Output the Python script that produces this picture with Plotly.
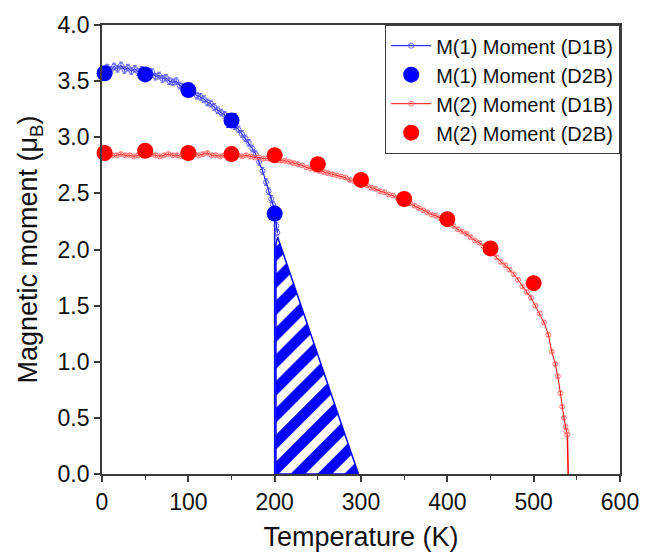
import plotly.graph_objects as go

# ---------------- data ----------------
# M(1) moment, D1B (fine temperature scan)
m1_d1b_T = [2, 6, 10, 14, 18, 22, 26, 30, 34, 38, 42, 46, 50, 54, 58, 62, 66, 70, 74, 78,
            82, 86, 90, 94, 98, 102, 106, 110, 114, 118, 122, 126, 130, 134, 138, 142, 146,
            150, 154, 158, 162, 166, 170, 174, 178, 182, 186, 190, 193, 196, 198, 200, 202, 203]
m1_d1b_M = [3.60, 3.62, 3.60, 3.63, 3.61, 3.64, 3.60, 3.62, 3.59, 3.61, 3.58, 3.60, 3.57, 3.56,
            3.58, 3.54, 3.55, 3.52, 3.53, 3.50, 3.49, 3.50, 3.46, 3.45, 3.44, 3.41, 3.40, 3.37,
            3.36, 3.34, 3.31, 3.30, 3.27, 3.24, 3.22, 3.20, 3.16, 3.13, 3.10, 3.07, 3.03, 2.99,
            2.95, 2.90, 2.85, 2.78, 2.70, 2.60, 2.52, 2.45, 2.40, 2.36, 2.21, 2.15]
m1_d1b_err = 0.03

# M(1) moment, D2B
m1_d2b_T = [3, 50, 100, 150, 200]
m1_d2b_M = [3.57, 3.56, 3.42, 3.15, 2.32]
m1_d2b_err = [0.03, 0.04, 0.03, 0.06, 0.04]

# M(2) moment, D1B
m2_d1b_T = [2, 7, 12, 17, 22, 27, 32, 37, 42, 47, 52, 57, 62, 67, 72, 77, 82, 87, 92, 97,
            102, 107, 112, 117, 122, 127, 132, 137, 142, 147, 152, 157, 162, 167, 172, 177,
            182, 187, 192, 197, 202, 207, 212, 217, 222, 227, 232, 237, 242, 247, 252, 257,
            262, 267, 272, 277, 282, 287, 292, 297, 302, 307, 312, 317, 322, 327, 332, 337,
            342, 347, 352, 357, 362, 367, 372, 377, 382, 387, 392, 397, 402, 407, 412, 417,
            422, 427, 432, 437, 442, 447, 452, 457, 462, 467, 472, 477, 482, 487, 492, 497,
            502, 507, 512, 517, 521, 525, 528, 531, 533, 535, 537, 538, 539]
m2_d1b_M = [2.84, 2.85, 2.84, 2.84, 2.85, 2.84, 2.84, 2.83, 2.84, 2.85, 2.84, 2.85, 2.84, 2.83,
            2.84, 2.85, 2.84, 2.84, 2.83, 2.84, 2.84, 2.85, 2.84, 2.85, 2.86, 2.84, 2.84, 2.83,
            2.84, 2.84, 2.83, 2.84, 2.83, 2.84, 2.83, 2.82, 2.82, 2.81, 2.81, 2.80, 2.80, 2.79,
            2.79, 2.78, 2.77, 2.76, 2.75, 2.73, 2.72, 2.71, 2.70, 2.69, 2.68, 2.67, 2.66, 2.65,
            2.64, 2.62, 2.61, 2.60, 2.59, 2.57, 2.55, 2.54, 2.52, 2.51, 2.49, 2.48, 2.46, 2.44,
            2.43, 2.41, 2.39, 2.37, 2.35, 2.33, 2.31, 2.30, 2.28, 2.26, 2.24, 2.21, 2.18, 2.16,
            2.14, 2.11, 2.08, 2.06, 2.03, 2.00, 1.97, 1.93, 1.89, 1.86, 1.82, 1.78, 1.73, 1.67,
            1.62, 1.57, 1.50, 1.43, 1.35, 1.24, 1.09, 0.98, 0.87, 0.72, 0.60, 0.50, 0.42, 0.38,
            0.35]
m2_d1b_err = 0.015

# M(2) moment, D2B
m2_d2b_T = [3, 50, 100, 150, 200, 250, 300, 350, 400, 450, 500]
m2_d2b_M = [2.86, 2.88, 2.86, 2.85, 2.84, 2.76, 2.62, 2.45, 2.27, 2.01, 1.70]

# transition lines to zero
m1_drop_T = [200, 200]
m1_drop_M = [2.30, 0.0]
m2_drop_T = [539, 540]
m2_drop_M = [0.35, 0.0]

# hatched region
hatch_T = [201.5, 201.5, 203.5, 297, 201.5]
hatch_M = [0.0, 2.05, 2.11, 0.0, 0.0]

x_ticks = [0, 100, 200, 300, 400, 500, 600]
y_ticks = [0.0, 0.5, 1.0, 1.5, 2.0, 2.5, 3.0, 3.5, 4.0]

BLUE = "#0000ff"
RED = "#ff0000"
FONT = "Liberation Sans, Arial, sans-serif"
INK = "#111111"
FRAME = "#3a3a3a"

fig = go.Figure()

# hatched triangle
fig.add_trace(go.Scatter(
    x=hatch_T, y=hatch_M, mode="lines", fill="toself",
    line=dict(color=BLUE, width=1.5),
    fillcolor="white",
    fillpattern=dict(shape="/", fgcolor=BLUE, bgcolor="white", size=19, solidity=0.55, fgopacity=1),
    showlegend=False, hoverinfo="skip"))

fig.add_trace(go.Scatter(x=m1_drop_T, y=m1_drop_M, mode="lines",
                         line=dict(color=BLUE, width=1.5), showlegend=False))
fig.add_trace(go.Scatter(x=m2_drop_T, y=m2_drop_M, mode="lines",
                         line=dict(color=RED, width=1.5), showlegend=False))

fig.add_trace(go.Scatter(
    x=m1_d1b_T, y=m1_d1b_M, mode="lines+markers", name="M(1) Moment (D1B)",
    line=dict(color=BLUE, width=1),
    marker=dict(symbol="circle-open", size=5, color="rgba(80,80,255,0.9)", line=dict(width=1)),
    error_y=dict(type="constant", value=m1_d1b_err, color="rgba(50,50,255,0.85)", thickness=0.8, width=2)))

fig.add_trace(go.Scatter(
    x=m1_d2b_T, y=m1_d2b_M, mode="markers", name="M(1) Moment (D2B)",
    marker=dict(symbol="circle", size=16, color=BLUE),
    error_y=dict(type="data", array=m1_d2b_err, color=BLUE, thickness=1.5, width=5),
    cliponaxis=False))

fig.add_trace(go.Scatter(
    x=m2_d1b_T, y=m2_d1b_M, mode="lines+markers", name="M(2) Moment (D1B)",
    line=dict(color=RED, width=1),
    marker=dict(symbol="circle-open", size=5, color="rgba(255,110,110,0.9)", line=dict(width=1)),
    error_y=dict(type="constant", value=m2_d1b_err, color="rgba(255,80,80,0.8)", thickness=0.8, width=2)))

fig.add_trace(go.Scatter(
    x=m2_d2b_T, y=m2_d2b_M, mode="markers", name="M(2) Moment (D2B)",
    marker=dict(symbol="circle", size=16, color=RED),
    cliponaxis=False))

axis_common = dict(
    showline=True, linecolor=FRAME, linewidth=1.8, mirror=True,
    ticks="outside", ticklen=6, tickwidth=1.5, tickcolor=FRAME,
    showgrid=False, zeroline=False,
    tickfont=dict(family=FONT, size=23, color=INK),
)

fig.update_xaxes(
    range=[0, 600], tickvals=x_ticks, ticktext=[str(v) for v in x_ticks],
    minor=dict(ticks="outside", ticklen=4, tickwidth=1.2, tickcolor=FRAME, dtick=50, tick0=0),
    title=dict(text="Temperature (K)", font=dict(family=FONT, size=27, color=INK), standoff=14),
    **axis_common)
fig.update_yaxes(
    range=[0, 4.0], tickvals=y_ticks, ticktext=[f"{v:.1f}" for v in y_ticks],
    title=dict(text="Magnetic moment (μ<sub>B</sub>)", font=dict(family=FONT, size=27, color=INK), standoff=12),
    **axis_common)

fig.update_layout(
    width=651, height=559,
    margin=dict(l=102, r=23, t=21, b=75),
    plot_bgcolor="white", paper_bgcolor="white",
    font=dict(family=FONT),
    legend=dict(x=1, y=1, xanchor="right", yanchor="top",
                bgcolor="white", bordercolor=FRAME, borderwidth=1.2,
                font=dict(family=FONT, size=20, color=INK),
                itemwidth=40, tracegroupgap=0),
)

fig.write_html("out.html")
